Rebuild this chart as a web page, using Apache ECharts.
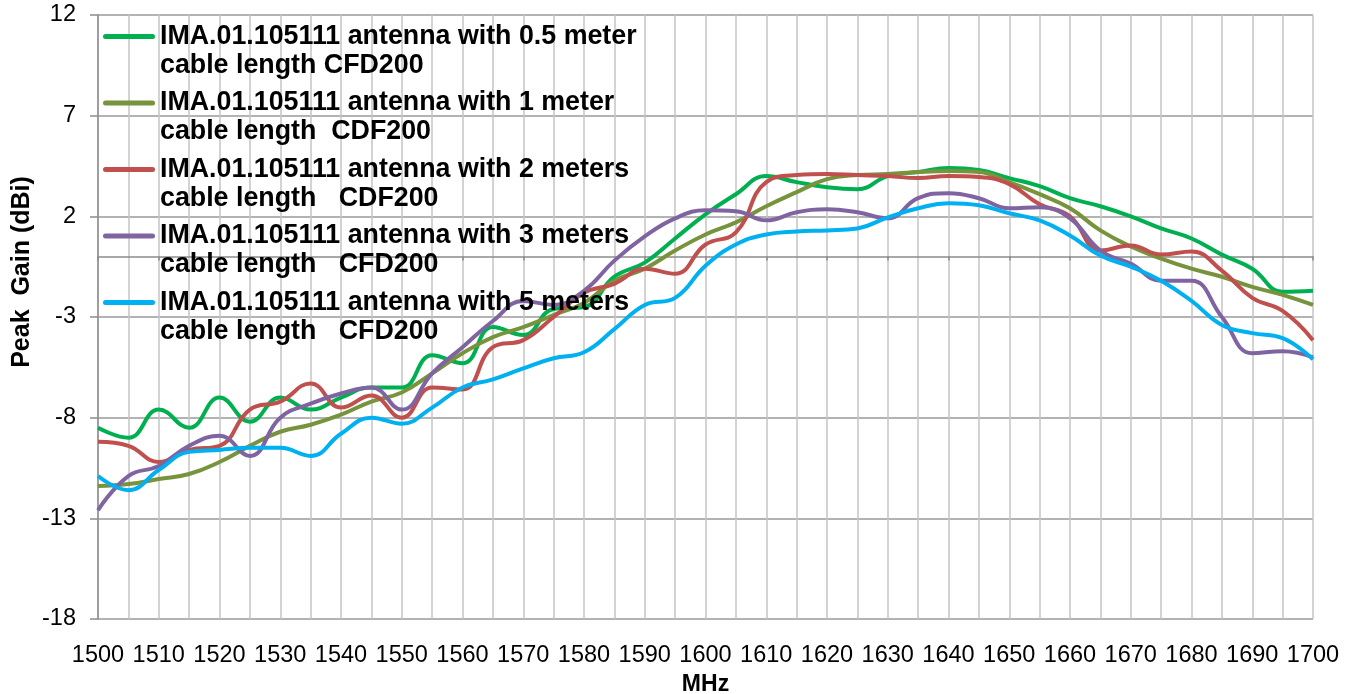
<!DOCTYPE html>
<html>
<head>
<meta charset="utf-8">
<script src="https://cdn.jsdelivr.net/npm/echarts@6/dist/echarts.min.js"></script>
<style>html,body{margin:0;padding:0;background:#fff;}#chart{width:1360px;height:694px;}</style>
</head>
<body>
<div id="chart"></div>
<script>
const freqs = [1500,1505,1510,1515,1520,1525,1530,1535,1540,1545,1550,1555,1560,1565,1570,1575,1580,1585,1590,1595,1600,1605,1610,1615,1620,1625,1630,1635,1640,1645,1650,1655,1660,1665,1670,1675,1680,1685,1690,1695,1700];

const gain05 = [-8.5,-9.0,-7.6,-8.5,-7.0,-8.2,-7.0,-7.6,-7.0,-6.5,-6.5,-4.9,-5.3,-3.5,-3.9,-2.6,-2.5,-1.0,-0.3,0.9,2.1,3.1,4.0,3.7,3.45,3.35,4.0,4.2,4.4,4.3,3.9,3.5,2.9,2.5,2.0,1.4,0.9,0.1,-0.6,-1.75,-1.7];
const gain1  = [-11.4,-11.3,-11.05,-10.8,-10.2,-9.4,-8.7,-8.35,-7.85,-7.2,-6.75,-5.8,-4.8,-4.0,-3.5,-2.9,-2.3,-1.2,-0.6,0.3,1.1,1.7,2.5,3.2,3.85,4.05,4.1,4.2,4.25,4.2,3.7,3.1,2.4,1.3,0.5,-0.1,-0.6,-1.0,-1.5,-1.9,-2.4];
const gain2  = [-9.2,-9.4,-10.2,-9.6,-9.4,-7.6,-7.2,-6.3,-7.5,-6.9,-8.0,-6.5,-6.6,-4.5,-4.15,-3.0,-1.8,-1.35,-0.6,-0.85,0.6,1.2,3.7,4.05,4.1,4.05,4.0,3.9,4.0,3.95,3.6,2.6,2.0,0.3,0.55,0.1,0.25,-0.7,-2.05,-2.7,-4.15];
const gain3  = [-12.6,-10.9,-10.4,-9.4,-8.9,-9.9,-8.0,-7.3,-6.8,-6.5,-7.6,-5.8,-4.5,-3.2,-2.2,-2.4,-1.7,-0.2,1.0,1.9,2.3,2.25,1.8,2.2,2.35,2.2,1.9,2.9,3.15,2.9,2.4,2.45,1.9,0.3,-0.35,-1.2,-1.2,-3.0,-4.8,-4.7,-5.0];
const gain5  = [-10.9,-11.6,-10.6,-9.7,-9.6,-9.5,-9.5,-9.9,-8.8,-8.0,-8.3,-7.5,-6.5,-6.1,-5.55,-5.05,-4.75,-3.6,-2.4,-2.05,-0.45,0.6,1.1,1.25,1.3,1.4,1.95,2.4,2.65,2.55,2.15,1.8,1.05,0.05,-0.5,-1.2,-2.2,-3.4,-3.8,-4.05,-5.1];

const seriesNames = [
  'IMA.01.105111 antenna with 0.5 meter\ncable length CFD200',
  'IMA.01.105111 antenna with 1 meter\ncable length  CDF200',
  'IMA.01.105111 antenna with 2 meters\ncable length   CDF200',
  'IMA.01.105111 antenna with 3 meters\ncable length   CFD200',
  'IMA.01.105111 antenna with 5 meters\ncable length   CFD200'
];
const yTicks = [-18,-13,-8,-3,2,7,12];
const xTitle = 'MHz';
const yTitle = 'Peak  Gain (dBi)';

const colors = ['#00B050','#77933C','#C0504D','#8064A2','#00B0F0'];
const allValues = [gain05, gain1, gain2, gain3, gain5];
const FONT = '"Liberation Sans", Arial, sans-serif';

function iconFor(color){
  const svg = "<svg xmlns='http://www.w3.org/2000/svg' width='52' height='58' viewBox='0 0 52 58'>" +
    "<line x1='2.5' y1='14.5' x2='49.5' y2='14.5' stroke='" + color + "' stroke-width='5' stroke-linecap='round'/></svg>";
  return 'image://data:image/svg+xml;charset=utf-8,' + encodeURIComponent(svg);
}

const chart = echarts.init(document.getElementById('chart'), null, {renderer:'canvas'});

const series = allValues.map((vals, i) => ({
  name: seriesNames[i],
  type: 'line',
  smooth: 0.45,
  symbol: 'none',
  data: freqs.map((f, k) => [f, vals[k]]),
  lineStyle: {color: colors[i], width: 4},
  itemStyle: {color: colors[i]},
  xAxisIndex: 0,
  yAxisIndex: 0,
  animation: false
}));

chart.setOption({
  animation: false,
  backgroundColor: '#fff',
  grid: {left: 98, right: 47, top: 15, bottom: 75, containLabel: false, outerBoundsMode: 'none'},
  legend: {
    orient: 'vertical',
    left: 103,
    top: 22,
    padding: 0,
    itemWidth: 52,
    itemHeight: 58,
    itemGap: 8.5,
    selectedMode: false,
    textStyle: {fontSize: 26.8, fontWeight: 'bold', color: '#000', lineHeight: 29, fontFamily: FONT},
    data: seriesNames.map((n, i) => ({name: n, icon: iconFor(colors[i])}))
  },
  graphic: [{
    type: 'text', x: 22, y: 272, rotation: Math.PI / 2, silent: true,
    style: {text: yTitle, align: 'center', verticalAlign: 'middle', fill: '#000',
      font: 'bold 25px ' + FONT}
  }],
  xAxis: [
    {
      type: 'value', min: 1500, max: 1700, interval: 5, position: 'bottom',
      axisLine: {show: false, onZero: false},
      axisTick: {show: false},
      axisLabel: {
        formatter: v => (v % 10 === 0 ? String(v) : ''),
        fontSize: 23.5, margin: 25, color: '#000', fontFamily: FONT
      },
      splitLine: {show: true, lineStyle: {color: '#c4c4c4', width: 1.5}},
      name: xTitle, nameLocation: 'middle', nameGap: 51,
      nameTextStyle: {fontSize: 23, fontWeight: 'bold', color: '#000', fontFamily: FONT}
    },
    {
      type: 'value', min: 1500, max: 1700, interval: 10, position: 'bottom',
      axisLine: {show: true, onZero: true, lineStyle: {color: '#8c8c8c', width: 1.5}},
      axisTick: {show: true, length: 4, lineStyle: {color: '#8c8c8c', width: 1.5}},
      axisLabel: {show: false},
      splitLine: {show: false}
    }
  ],
  yAxis: {
    type: 'value', min: -18, max: 12, interval: 5,
    axisLine: {show: true, onZero: false, lineStyle: {color: '#8c8c8c', width: 1.5}},
    axisTick: {show: true, length: 8, lineStyle: {color: '#8c8c8c', width: 1.5}},
    axisLabel: {fontSize: 23.5, margin: 22, color: '#000', fontFamily: FONT,
      formatter: v => (yTicks.indexOf(v) >= 0 ? String(v) : '')},
    splitLine: {show: true, lineStyle: {color: '#9a9a9a', width: 1.5}}
  },
  series: series
});
</script>
</body>
</html>
